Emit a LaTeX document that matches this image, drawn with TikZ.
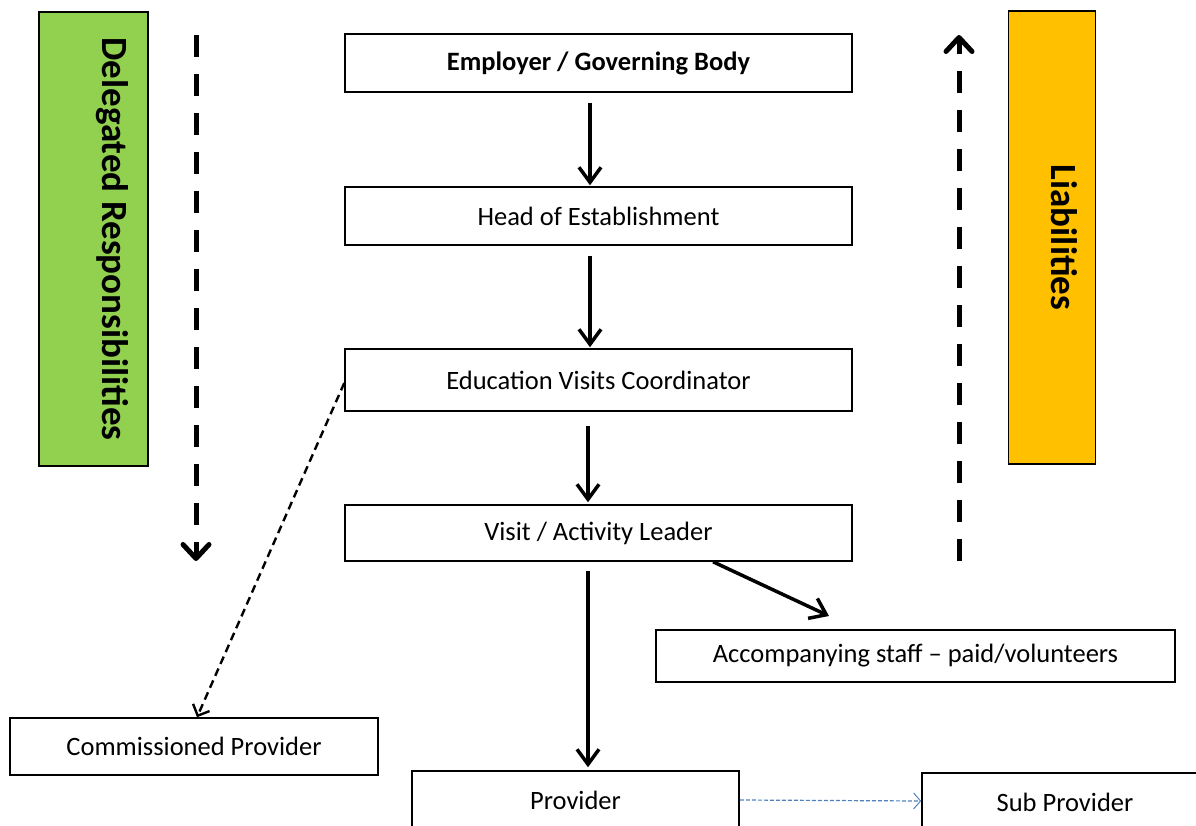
\documentclass[tikz,border=0pt]{standalone}
\usepackage{fontspec}
\setmainfont{Carlito}
\usetikzlibrary{arrows.meta}
\definecolor{delegreen}{RGB}{146,208,80}
\definecolor{liaborange}{RGB}{255,192,0}
\definecolor{subblue}{RGB}{79,129,189}
\tikzset{
 rolebox/.style={draw,line width=1.5pt,minimum height=58pt,inner sep=0pt,font=\fontsize{26.5}{30}\selectfont},
 sidebox/.style={draw,line width=1.6pt,inner sep=0pt,font=\bfseries\fontsize{37}{42}\selectfont,rotate=-90},
 down/.style={-{Straight Barb[length=15pt,width=22pt,line width=3.5pt]},line width=3.5pt},
 flow/.style={-{Straight Barb[length=14pt,width=26pt,line width=5pt,round]},line width=5pt,dash pattern=on 22pt off 17pt}
}
\begin{document}
\begin{tikzpicture}[x=1pt,y=-1pt]
 \useasboundingbox (0,0) rectangle (1196,826);
 \clip (0,0) rectangle (1196,826);
 \node[rolebox,minimum width=507pt,font=\bfseries\fontsize{26.5}{30}\selectfont] (employer) at (598.5,63) {Employer / Governing Body};
 \node[rolebox,minimum width=507pt] (head) at (598.5,216) {Head of Establishment};
 \node[rolebox,minimum width=507pt,minimum height=62pt] (evc) at (598.5,380) {Education Visits Coordinator};
 \node[rolebox,minimum width=507pt,minimum height=56pt] (leader) at (598.5,533) {Visit / Activity Leader};
 \node[rolebox,minimum width=519pt,minimum height=52pt] (staff) at (915.5,656) {Accompanying staff -- paid/volunteers};
 \node[rolebox,minimum width=368pt,minimum height=57pt] (commissioned) at (194,746.5) {Commissioned Provider};
 \node[rolebox,minimum width=327pt] (provider) at (575.5,800) {Provider};
 \node[rolebox,minimum width=286pt] (subprovider) at (1065,802) {Sub Provider};
 % side bars
 \node[sidebox,fill=delegreen,minimum width=454pt,minimum height=109pt,text depth=44pt] (delegated) at (93.5,239) {Delegated Responsibilities};
 \node[sidebox,fill=liaborange,minimum width=453pt,minimum height=87pt,text depth=24pt] (liabilities) at (1052,237.5) {Liabilities};
 \coordinate (dtop) at (196,35);
 \coordinate (dbot) at (196,561);
 \coordinate (ltop) at (959,35);
 \coordinate (lbot) at (959,561);
 \draw[flow] (dtop) -- (dbot);
 \draw[flow] (lbot) -- (ltop);
 % chain
 \draw[down,shorten <=10pt,shorten >=1pt] (employer.south -| 590,0) -- (head.north -| 590,0);
 \draw[down,shorten <=10pt,shorten >=1pt] (head.south -| 590,0) -- (evc.north -| 590,0);
 \draw[down,shorten <=14pt,shorten >=2pt] (evc.south -| 588,0) -- (leader.north -| 588,0);
 \draw[down,shorten <=9pt,shorten >=3pt] (leader.south -| 588,0) -- (provider.north -| 588,0);
 \draw[down] (leader.south -| 713,0) -- (829,616);
 \draw[-{Straight Barb[length=9pt,width=18pt,line width=2.4pt]},line width=2.4pt,dash pattern=on 8pt off 5pt] (evc.west |- 0,383) -- (commissioned.north -| 197,0);
 \draw[-{Straight Barb[length=7pt,width=16pt,line width=1pt]},subblue,line width=1.2pt,dash pattern=on 4pt off 2pt] (provider.east |- 0,800) -- (subprovider.west |- 0,801);
\end{tikzpicture}
\end{document}
